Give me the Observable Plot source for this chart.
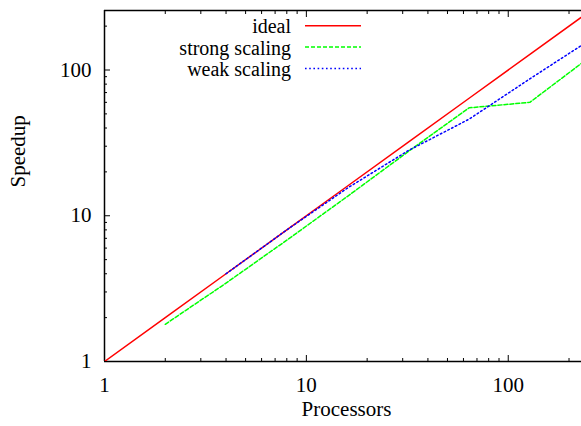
<!DOCTYPE html>
<html><head><meta charset="utf-8">
<script src="https://cdn.jsdelivr.net/npm/d3@7"></script>
<script src="https://cdn.jsdelivr.net/npm/@observablehq/plot@0.6"></script>
<style>
html,body{margin:0;padding:0;background:#fff;overflow:hidden;}
</style></head><body><div id="chart"></div>
<script>
// ---- data ----
const idealProcs = [1, 2, 4, 8, 16, 32, 64, 128, 256];
const idealSpeedup = [1, 2, 4, 8, 16, 32, 64, 128, 256];
const strongProcs = [2, 4, 8, 16, 32, 64, 128, 256];
const strongSpeedup = [1.8, 3.45, 6.8, 13.6, 27.6, 55, 60, 124];
const weakProcs = [4, 8, 16, 32, 64, 128, 256];
const weakSpeedup = [4, 8, 15.5, 28, 46, 87, 162];
const seriesNames = ["ideal", "strong scaling", "weak scaling"];
const xMajor = [1, 10, 100];
const yMajor = [1, 10, 100];
const xMinor = [2, 3, 4, 5, 6, 7, 8, 9, 20, 30, 40, 50, 60, 70, 80, 90, 200];
const yMinor = [2, 3, 4, 5, 6, 7, 8, 9, 20, 30, 40, 50, 60, 70, 80, 90, 200];
const xLabel = "Processors";
const yLabel = "Speedup";

// ---- styles ----
const colors = ["#ff0000", "#00ff00", "#0000ff"];
const dashes = [null, "4,2", "1.6,2.6"];
const FONT = "'Liberation Serif', 'Times New Roman', serif";
const FS = 21;
const LEG_FS = 20;

const toRows = (xs, ys) => xs.map((p, i) => ({p, s: ys[i]}));
const series = [
  toRows(idealProcs, idealSpeedup),
  toRows(strongProcs, strongSpeedup),
  toRows(weakProcs, weakSpeedup)
];

const fmt = d => String(d);
const blank = () => "";

const plot = Plot.plot({
  width: 581,
  height: 426,
  marginLeft: 104,
  marginRight: 0,
  marginTop: 10,
  marginBottom: 65,
  style: {fontFamily: FONT, fontSize: FS + "px", color: "#000", background: "#fff"},
  x: {type: "log", domain: [1, 230.6]},
  y: {type: "log", domain: [1, 256]},
  marks: [
    // tick labels
    Plot.axisX(xMajor, {anchor: "bottom", tickSize: 0, tickPadding: 16, tickFormat: fmt, label: null, fontSize: FS}),
    Plot.axisY(yMajor, {anchor: "left", tickSize: 0, tickPadding: 13, tickFormat: fmt, label: null, fontSize: FS}),
    // inward ticks
    Plot.axisX(xMajor, {anchor: "bottom", tickSize: -6, tickFormat: blank, label: null, strokeWidth: 1}),
    Plot.axisX(xMinor, {anchor: "bottom", tickSize: -3, tickFormat: blank, label: null, strokeWidth: 1}),
    Plot.axisX(xMajor, {anchor: "top", tickSize: -6, tickFormat: blank, label: null, strokeWidth: 1}),
    Plot.axisX(xMinor, {anchor: "top", tickSize: -3, tickFormat: blank, label: null, strokeWidth: 1}),
    Plot.axisY(yMajor, {anchor: "left", tickSize: -6, tickFormat: blank, label: null, strokeWidth: 1}),
    Plot.axisY(yMinor, {anchor: "left", tickSize: -3, tickFormat: blank, label: null, strokeWidth: 1}),
    // frame lines
    Plot.ruleX([1], {stroke: "#000", strokeWidth: 1.5}),
    Plot.ruleY([1], {stroke: "#000", strokeWidth: 1.5}),
    Plot.ruleY([256], {stroke: "#000", strokeWidth: 1.5}),
    // data
    ...series.map((rows, i) => Plot.line(rows, {
      x: "p", y: "s", stroke: colors[i], strokeWidth: 1.5,
      strokeDasharray: dashes[i], clip: true
    })),
    // axis titles
    Plot.text([xLabel], {frameAnchor: "bottom", dx: 3.5, dy: 54, fontSize: FS, fill: "#000"}),
    Plot.text([yLabel], {frameAnchor: "left", rotate: -90, dx: -86, dy: 1.5, fontSize: FS, fill: "#000"})
  ]
});

// legend (top right, gnuplot style)
const svg = d3.select(plot);
const leg = svg.append("g").attr("font-family", FONT).attr("font-size", LEG_FS);
seriesNames.forEach((name, i) => {
  const y = 25.8 + 21.3 * i;
  leg.append("text").attr("x", 291).attr("y", y).attr("dy", "0.37em")
    .attr("text-anchor", "end").attr("fill", "#000").text(name);
  leg.append("line").attr("x1", 305).attr("x2", 361).attr("y1", y).attr("y2", y)
    .attr("stroke", colors[i]).attr("stroke-width", 1.5)
    .attr("stroke-dasharray", dashes[i]);
});

document.getElementById("chart").appendChild(plot);
</script>
</body></html>
